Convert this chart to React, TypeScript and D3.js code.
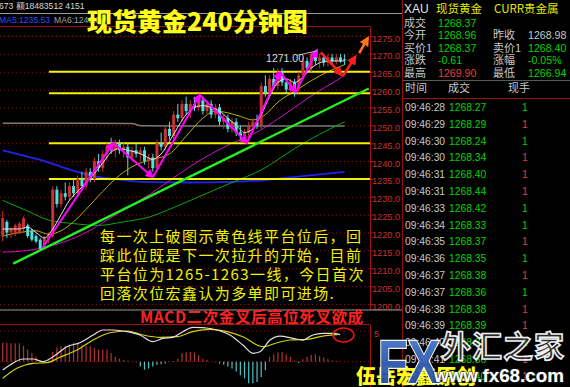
import React, { useEffect } from "react";
import * as d3 from "d3";

// ---- price bars (240-minute), [open, high, low, close] ----
const candles: [number, number, number, number][] = [
  [1219, 1226, 1217.5, 1224], [1223, 1223.5, 1218.5, 1220], [1220, 1221.5, 1218.5, 1221], [1219.5, 1222.5, 1219, 1222],
  [1220, 1223, 1219.5, 1222.5], [1221, 1224.5, 1220, 1224], [1222, 1222.5, 1218.5, 1219], [1220.5, 1221, 1217.5, 1218],
  [1219, 1219.5, 1217, 1217.5], [1218, 1218.5, 1215, 1215.5], [1216.5, 1219, 1216, 1218.5], [1218, 1220, 1217, 1219],
  [1219, 1233, 1218.5, 1232], [1232, 1233, 1227, 1228], [1228, 1232, 1227, 1231], [1231, 1234, 1229, 1230],
  [1230, 1234, 1229, 1233], [1233, 1235, 1230, 1231], [1231, 1236, 1230, 1235], [1235, 1237, 1232, 1233],
  [1233, 1238, 1232, 1237], [1237, 1238, 1234, 1235], [1235, 1241, 1234, 1240], [1240, 1242, 1237, 1238],
  [1238, 1243, 1237, 1242], [1242, 1245, 1240, 1244], [1244, 1246.5, 1242, 1243], [1243, 1246, 1241, 1245],
  [1245, 1246, 1242, 1243], [1243, 1245, 1241, 1244], [1244, 1245, 1236, 1241], [1241, 1244, 1240, 1243],
  [1243, 1245, 1241, 1242], [1242, 1244, 1240, 1243], [1243, 1244, 1239, 1240], [1240, 1242, 1238, 1241],
  [1241, 1242, 1237, 1238], [1238, 1246, 1237.5, 1245], [1245, 1248, 1243, 1244], [1244, 1250, 1243, 1249],
  [1249, 1251, 1246, 1247], [1247, 1254, 1246, 1253], [1253, 1256, 1251, 1252], [1252, 1257, 1251, 1256],
  [1256, 1258, 1253, 1254], [1254, 1257, 1252, 1256], [1256, 1258, 1254, 1255], [1255, 1259, 1254, 1257],
  [1257, 1258, 1253, 1254], [1254, 1257, 1253, 1256], [1256, 1257, 1252, 1253], [1253, 1256, 1252, 1255],
  [1255, 1256, 1250, 1251], [1251, 1253, 1249, 1252], [1252, 1253, 1248, 1249], [1249, 1252, 1248, 1251],
  [1251, 1252, 1247, 1248], [1248, 1250, 1246, 1247], [1247, 1249, 1245, 1248], [1248, 1251, 1246, 1250],
  [1250, 1252, 1248, 1251], [1251, 1253, 1249, 1250], [1250, 1262, 1249, 1261], [1261, 1264, 1258, 1259],
  [1259, 1264, 1258, 1263], [1263, 1266, 1260, 1261], [1261, 1266, 1260, 1265], [1265, 1266, 1261, 1262],
  [1262, 1263, 1259, 1260], [1260, 1263, 1259, 1262], [1262, 1263, 1258, 1260], [1260, 1265, 1259, 1264],
  [1264, 1269, 1263, 1268], [1268, 1269, 1265, 1266], [1266, 1270.5, 1265, 1270], [1270, 1271, 1267, 1268],
  [1268, 1270, 1266, 1269], [1269, 1270, 1266.5, 1267.5], [1267.5, 1270, 1266.5, 1269], [1269, 1270, 1267, 1268],
  [1268, 1270, 1267, 1269], [1269, 1270, 1267.5, 1268], [1268.5, 1269.9, 1266.9, 1268.4],
];

// ---- moving averages, [bar index, price] ----
const maWhite: [number, number][] = [
  [0, 1221], [2, 1221], [4, 1221], [6, 1221.5], [8, 1220], [10, 1218.5], [12, 1221], [14, 1225], [16, 1229],
  [18, 1231.5], [20, 1234], [22, 1236.5], [24, 1239.5], [26, 1242.5], [28, 1243.5], [30, 1243], [32, 1242.5],
  [34, 1241.5], [36, 1240.5], [38, 1242], [40, 1245.5], [42, 1249.5], [44, 1253], [46, 1255], [48, 1255.5],
  [50, 1255], [52, 1254], [54, 1252], [56, 1250], [58, 1248], [60, 1249], [62, 1253], [64, 1258], [66, 1262],
  [68, 1263], [70, 1262], [72, 1263.5], [74, 1266], [76, 1267.5], [78, 1268], [80, 1268], [82, 1268],
];
const maOlive: [number, number][] = [
  [0, 1219], [4, 1220], [8, 1220.5], [11, 1219.5], [14, 1220.5], [17, 1223], [20, 1226.5], [24, 1231.5],
  [28, 1236], [32, 1239], [36, 1240.5], [40, 1242], [44, 1247], [48, 1252], [51, 1254], [54, 1253.5],
  [57, 1252.5], [60, 1251.5], [63, 1253], [66, 1256.5], [70, 1259.5], [74, 1262.5], [78, 1265], [82, 1267],
];
const maMagenta: [number, number][] = [
  [0, 1214.5], [6, 1215], [10, 1215.8], [15, 1217.5], [20, 1220], [25, 1223.5], [30, 1227], [35, 1230.5],
  [40, 1234.5], [45, 1238.5], [50, 1242], [55, 1245], [60, 1247.5], [65, 1251], [70, 1255], [75, 1259],
  [80, 1262.5], [82, 1264],
];
const maGreen: [number, number][] = [
  [0, 1229], [6, 1226], [11, 1223.5], [17, 1222.5], [23, 1222], [29, 1223], [35, 1224.3], [41, 1227],
  [47, 1230], [55, 1234], [62, 1237.5], [70, 1243.5], [76, 1247.5], [82, 1251],
];
const maBlue: [number, number][] = [
  [0, 1243], [5, 1241.5], [10, 1240], [15, 1238], [21, 1236], [28, 1234.8], [35, 1234.1], [45, 1234],
  [55, 1234.2], [63, 1234.7], [72, 1235.8], [82, 1237],
];
const maGray: [number, number][] = [
  [0, 1250.6], [20, 1250.6], [31, 1250.5], [33, 1249.9], [50, 1249.8], [82, 1249.8],
];

// ---- drawn annotations ----
const levelLines = [1265, 1259, 1245, 1235];
const levelStart = 11.1;
const trendLine: [number, number][] = [[2.5, 1211.3], [87.8, 1260.3]];
const zigzag: [number, number][] = [
  [9.6, 1215.8], [26.5, 1245.1], [36.0, 1235.5], [47.3, 1258.5], [58.6, 1245.1],
  [66.5, 1264.9], [70.3, 1259.3], [75.4, 1271.1],
];
const redArrows: [number, number][][] = [
  [[76.3, 1270.4], [81.3, 1264.1]],
  [[81.6, 1263.8], [84.6, 1269.3]],
];
const orangeArrow: [number, number][] = [[85.5, 1270.2], [87.6, 1274.5]];
const highLabel = { i: 75.4, price: 1271.0, text: "1271.00" };

const priceTicks = [1275, 1270, 1265, 1260, 1255, 1250, 1245, 1240, 1235, 1230, 1225, 1220, 1215, 1210, 1205, 1200];

// ---- MACD ----
const histogram = [
  3.1, 3.1, 3.0, 3.0, 3.0, 2.6, 2.0, 1.4, 0.8, 0.25, 0.08, 0.2, 1.6, 2.3, 2.5, 2.6, 2.8, 3.1, 3.0, 2.8,
  2.5, 2.5, 2.2, 2.0, 2.0, 2.0, 1.4, 0.8, 0.5, 0.3, 0.15, 0.05, -0.1, -0.8, -1.3, -1.1, -0.8, -0.5, -0.4, -0.3,
  -0.05, 0.1, 0.5, 1.4, 1.5, 1.6, 1.5, 1.1, 0.5, 0.3, 0.05, -0.1, -0.3, -0.5, -0.8, -1.1, -1.6, -2.2, -2.7, -3.5,
  -3.5, -3.3, -2.5, -1.4, 0.8, 1.2, 1.5, 1.6, 1.2, 0.8, 0.2, -0.2, 0.4, 0.8, 1.1, 1.2, 0.9, 0.7, 0.4, 0.2,
  0.1, 0.05, 0.05,
];
const dif: [number, number][] = [
  [0, -1.35], [1.75, -0.54], [4.9, 0.44], [7.3, 0.44], [9.7, 0], [12.1, 0.81], [15.4, 2.44], [18.5, 3.09],
  [21.7, 4.35], [24, 5.16], [26.5, 5.16], [29.8, 4.89], [32.9, 4.35], [36, 3.26], [38.4, 3.8], [40.8, 3.97],
  [43.2, 4.89], [45.6, 5.6], [48, 5.54], [51.4, 5.16], [54.5, 4.35], [57.6, 2.72], [60, 1.37], [61.7, 1.63],
  [64.1, 3.53], [66.5, 4.18], [69.6, 3.8], [72, 3.53], [74.4, 4.35], [76.8, 4.62], [79.2, 4.62], [80.9, 4.4],
];
const dea: [number, number][] = [
  [0, -2.71], [3.4, -1.08], [7.3, -0.26], [10.6, -0.16], [13.7, 0.72], [17.8, 1.91], [21.7, 3.53], [25.7, 4.72],
  [29.8, 5.0], [33.6, 4.35], [37.7, 3.97], [41.8, 4.07], [45.6, 4.89], [49.7, 5.27], [53.8, 4.89], [57.6, 4.07],
  [62.4, 2.44], [65.8, 3.09], [68.9, 3.53], [73, 3.64], [76.8, 4.18], [80.2, 4.4],
];

// ---- quote panel ----
const GREEN = "#00d400";
const RED = "#e83c3c";
const GREY = "#c8c8c8";
const quoteLeft = [
  { label: "成交", value: "1268.37", color: GREEN },
  { label: "今开", value: "1268.96", color: GREEN },
  { label: "买价1", value: "1268.37", color: GREEN },
  { label: "涨跌", value: "-0.61", color: GREEN },
  { label: "最高", value: "1269.90", color: RED },
];
const quoteRight = [
  null,
  { label: "昨收", value: "1268.98", color: GREY },
  { label: "卖价1", value: "1268.40", color: GREEN },
  { label: "涨幅", value: "-0.05%", color: GREEN },
  { label: "最低", value: "1266.94", color: GREEN },
];
const ticksTime = [
  "09:46:28", "09:46:29", "09:46:30", "09:46:30", "09:46:31", "09:46:31", "09:46:33", "09:46:34", "09:46:35",
  "09:46:36", "09:46:37", "09:46:37", "09:46:38", "09:46:39", "09:46:40", "09:46:41", "09:46:42",
];
const ticksPrice = [
  "1268.27", "1268.29", "1268.24", "1268.34", "1268.40", "1268.44", "1268.42", "1268.33", "1268.37",
  "1268.35", "1268.38", "1268.36", "1268.38", "1268.39", "1268.37", "1268.36", "1268.40",
];
const ticksUp = [false, true, false, true, true, true, false, false, true, false, true, false, true, true, false, true, true];

const noteLines = [
  "每一次上破图示黄色线平台位后，回",
  "踩此位既是下一次拉升的开始，目前",
  "平台位为1265-1263一线，今日首次",
  "回落次位宏鑫认为多单即可进场.",
];

const CJK = "'Noto Sans CJK SC', sans-serif";
const SANS = "'Liberation Sans', Arial, sans-serif";

export default function App() {
  useEffect(() => {
    document.body.style.margin = "0";
    document.body.style.background = "#000";
  }, []);

  const x = d3.scaleLinear().domain([0, 82]).range([2.7, 344.6]);
  const y = d3.scaleLinear().domain([1200, 1275]).range([304, 36]);
  const ym = d3.scaleLinear().domain([0, 5]).range([361.7, 331]);

  const maLine = d3
    .line<[number, number]>()
    .x((d) => x(d[0]))
    .y((d) => y(d[1]))
    .curve(d3.curveMonotoneX);
  const macdLine = d3
    .line<[number, number]>()
    .x((d) => x(d[0]))
    .y((d) => ym(d[1]))
    .curve(d3.curveMonotoneX);
  const seg = d3
    .line<[number, number]>()
    .x((d) => x(d[0]))
    .y((d) => y(d[1]));

  const plotRight = 370;

  return (
    <svg
      width={570}
      height={387}
      style={{ position: "absolute", left: 0, top: 0, background: "#000", display: "block" }}
      fontFamily={SANS}
    >
      <defs>
        <marker id="ahMag" viewBox="0 0 10 10" refX="8" refY="5" markerWidth="4.5" markerHeight="4.5" orient="auto">
          <path d="M0,0 L10,5 L0,10 z" fill="#ff00ff" />
        </marker>
        <marker id="ahRed" viewBox="0 0 10 10" refX="8" refY="5" markerWidth="3.8" markerHeight="3.8" orient="auto">
          <path d="M0,0 L10,5 L0,10 z" fill="#ff1e1e" />
        </marker>
        <marker id="ahOrg" viewBox="0 0 10 10" refX="8" refY="5" markerWidth="3.8" markerHeight="3.8" orient="auto">
          <path d="M0,0 L10,5 L0,10 z" fill="#ff7418" />
        </marker>
        <clipPath id="plotClip">
          <rect x={0} y={27} width={plotRight} height={283} />
        </clipPath>
        <clipPath id="macdClip">
          <rect x={0} y={325} width={plotRight} height={62} />
        </clipPath>
        <linearGradient id="fxBlue" x1="0" y1="0" x2="0" y2="1">
          <stop offset="0" stopColor="#5a8ee0" />
          <stop offset="1" stopColor="#1c3f94" />
        </linearGradient>
      </defs>

      {/* header rows above the price pane */}
      <text x={-1} y={9} fontSize={8.6} fill="#d8d8d8">673 额18483512 4151</text>
      <line x1={0} x2={402} y1={13.5} y2={13.5} stroke="#9a9a9a" strokeWidth={1} />
      <text x={-1} y={23} fontSize={8.6} fill="#2f4dff">MA5:1235.53</text>
      <text x={54} y={23} fontSize={8.6} fill="#a0a0a0">MA6:1249.84</text>

      {/* price pane frame */}
      <line x1={0} x2={plotRight} y1={26.5} y2={26.5} stroke="#a01010" strokeWidth={1} />
      <line x1={plotRight + 0.5} x2={plotRight + 0.5} y1={26.5} y2={310} stroke="#a01010" strokeWidth={1} />

      {/* dotted price grid + axis labels */}
      {priceTicks.map((p) => (
        <g key={p}>
          <line x1={0} x2={plotRight} y1={y(p) + 0.5} y2={y(p) + 0.5} stroke="#8c0c0c" strokeWidth={1} strokeDasharray="1,3" />
          <line x1={plotRight} x2={plotRight + 3} y1={y(p) + 0.5} y2={y(p) + 0.5} stroke="#b01818" />
          <text x={372} y={y(p) + 5.5} fontSize={9.2} fill="#c83030">{p.toFixed(1)}</text>
        </g>
      ))}

      <g clipPath="url(#plotClip)">
        {/* moving averages */}
        <path d={maLine(maGray) ?? ""} fill="none" stroke="#7a7a7a" strokeWidth={1.6} />
        <path d={maLine(maBlue) ?? ""} fill="none" stroke="#2222ee" strokeWidth={1.8} />
        <path d={maLine(maGreen) ?? ""} fill="none" stroke="#0aa80a" strokeWidth={1} />
        <path d={maLine(maMagenta) ?? ""} fill="none" stroke="#d010d0" strokeWidth={1} />
        <path d={maLine(maOlive) ?? ""} fill="none" stroke="#bfae00" strokeWidth={1} />

        {/* yellow support/resistance levels */}
        {levelLines.map((p) => (
          <line key={p} x1={x(levelStart)} x2={plotRight} y1={y(p)} y2={y(p)} stroke="#f4f400" strokeWidth={2} />
        ))}

        {/* rising trend line */}
        <path d={seg(trendLine) ?? ""} stroke="#22ee22" strokeWidth={2.4} fill="none" />

        {/* candlesticks */}
        {candles.map(([o, h, l, c], i) => {
          const up = c >= o;
          const col = up ? "#c83232" : "#55dede";
          const top = y(Math.max(o, c));
          const bot = y(Math.min(o, c));
          return (
            <g key={i}>
              <line x1={x(i)} x2={x(i)} y1={y(h)} y2={y(l)} stroke={col} strokeWidth={1} />
              <rect x={x(i) - 1.5} y={top} width={3} height={Math.max(1, bot - top)} fill={col} />
            </g>
          );
        })}

        <path d={maLine(maWhite) ?? ""} fill="none" stroke="#e4e4e4" strokeWidth={1} />

        {/* swing arrows */}
        {zigzag.slice(1).map((p, k) => (
          <path
            key={k}
            d={seg([zigzag[k], p]) ?? ""}
            stroke="#ff00ff"
            strokeWidth={2}
            fill="none"
            markerEnd="url(#ahMag)"
          />
        ))}
        {redArrows.map((a, k) => (
          <path key={k} d={seg(a) ?? ""} stroke="#ff1e1e" strokeWidth={2.6} fill="none" markerEnd="url(#ahRed)" />
        ))}

        {/* high marker */}
        <line
          x1={x(highLabel.i) - 20}
          y1={y(highLabel.price) + 5}
          x2={x(highLabel.i)}
          y2={y(highLabel.price) + 0.5}
          stroke="#b4b4b4"
          strokeWidth={1}
        />
        <text x={x(highLabel.i) - 51} y={y(highLabel.price) + 12} fontSize={10.5} fill="#dcdcdc">
          {highLabel.text}
        </text>
      </g>

      {/* orange arrow tip reaches over the frame */}
      <path d={seg(orangeArrow) ?? ""} stroke="#ff7418" strokeWidth={2.6} fill="none" markerEnd="url(#ahOrg)" />

      {/* commentary */}
      {noteLines.map((t, k) => (
        <text
          key={k}
          x={100}
          y={235.5 + k * 19}
          dominantBaseline="central"
          fontFamily={CJK}
          fontSize={15}
          letterSpacing={1.4}
          fill="#f2f200"
        >
          {t}
        </text>
      ))}

      {/* title */}
      <text x={87} y={31} fontFamily={CJK} fontWeight={900} fontSize={25} fill="#ffff1a" letterSpacing={0}>
        现货黄金240分钟图
      </text>

      {/* MACD pane */}
      <line x1={0} x2={402} y1={310} y2={310} stroke="#9a9a9a" strokeWidth={1} />
      <text x={140} y={323} fontFamily={CJK} fontSize={15.5} fontWeight={700} fill="#ff2020" letterSpacing={0.6}>
        MACD二次金叉后高位死叉欲成
      </text>
      <line x1={0} x2={plotRight} y1={324.5} y2={324.5} stroke="#a01010" strokeWidth={1} />
      <line x1={plotRight + 0.5} x2={plotRight + 0.5} y1={324.5} y2={387} stroke="#a01010" strokeWidth={1} />
      {[5, 0].map((v) => (
        <line key={v} x1={0} x2={plotRight} y1={ym(v)} y2={ym(v)} stroke="#8c0c0c" strokeDasharray="1,3" />
      ))}
      <text x={374} y={337} fontSize={9.2} fill="#c83030">5</text>
      <g clipPath="url(#macdClip)">
        {histogram.map((v, i) => (
          <line
            key={i}
            x1={x(i)}
            x2={x(i)}
            y1={ym(0)}
            y2={ym(v)}
            stroke={v >= 0 ? "#b43434" : "#4cc4c4"}
            strokeWidth={1.2}
          />
        ))}
        <path d={macdLine(dea) ?? ""} fill="none" stroke="#d2d200" strokeWidth={1.2} />
        <path d={macdLine(dif) ?? ""} fill="none" stroke="#e0e0e0" strokeWidth={1.2} />
      </g>
      <ellipse cx={343.5} cy={335} rx={10.5} ry={7} fill="none" stroke="#ff1010" strokeWidth={1.4} />

      {/* quote panel */}
      <line x1={402.5} x2={402.5} y1={0} y2={387} stroke="#8c1010" strokeWidth={1} />
      <text x={404} y={12.5} fontSize={12} fill="#e6e6e6">XAU</text>
      <text x={436} y={12.5} fontSize={11.5} fontFamily={CJK} fill="#e6e600">现货黄金</text>
      <text x={494} y={12.5} fontSize={11.5} fontFamily={CJK} fill="#e6e600">CURR贵金属</text>
      {quoteLeft.map((r, k) => (
        <g key={k}>
          <text x={404} y={26.5 + k * 12.5} fontSize={11} fontFamily={CJK} fill={GREY}>{r.label}</text>
          <text x={438} y={26.5 + k * 12.5} fontSize={10.6} fill={r.color}>{r.value}</text>
        </g>
      ))}
      {quoteRight.map((r, k) =>
        r ? (
          <g key={k}>
            <text x={493} y={26.5 + k * 12.5} fontSize={11} fontFamily={CJK} fill={GREY}>{r.label}</text>
            <text x={528} y={26.5 + k * 12.5} fontSize={10.6} fill={r.color}>{r.value}</text>
          </g>
        ) : null
      )}
      <line x1={403} x2={570} y1={80.5} y2={80.5} stroke="#5a5a5a" />
      <text x={405} y={92} fontSize={11} fontFamily={CJK} fill={GREY}>时间</text>
      <text x={448} y={92} fontSize={11} fontFamily={CJK} fill={GREY}>成交</text>
      <text x={508} y={92} fontSize={11} fontFamily={CJK} fill={GREY}>现手</text>
      <line x1={403} x2={570} y1={98.5} y2={98.5} stroke="#a01010" />
      {ticksTime.map((t, k) => (
        <g key={k}>
          <text x={405} y={111 + k * 16.8} fontSize={10.3} fill={GREY}>{t}</text>
          <text x={449} y={111 + k * 16.8} fontSize={10.3} fill={GREEN}>{ticksPrice[k]}</text>
          <text x={522} y={111 + k * 16.8} fontSize={10.3} fill={ticksUp[k] ? RED : GREEN}>1</text>
        </g>
      ))}

      {/* signature */}
      <text x={356} y={384} fontFamily={CJK} fontWeight={900} fontSize={20} fill="#ffff1a" letterSpacing={0}>
        伍岳宏鑫原创
      </text>

      {/* site logo */}
      <g>
        <text
          x={378}
          y={383}
          fontSize={62}
          fontWeight={700}
          fontFamily={SANS}
          textLength={62}
          lengthAdjust="spacingAndGlyphs"
          fill="url(#fxBlue)"
          stroke="#ffffff"
          strokeWidth={2.5}
          paintOrder="stroke"
          opacity={0.95}
        >
          FX
        </text>
        <text
          x={441}
          y={357}
          fontSize={30}
          fontFamily={CJK}
          fontWeight={700}
          fill="#3c3c3c"
          fillOpacity={0.7}
          stroke="#f0f0f0"
          strokeWidth={1.6}
          letterSpacing={1}
        >
          外汇之家
        </text>
        <text
          x={434}
          y={382}
          fontSize={18}
          fontWeight={700}
          fontFamily={SANS}
          fill="#ffffff"
          stroke="#303030"
          strokeWidth={1.2}
          paintOrder="stroke"
          textLength={130}
          lengthAdjust="spacingAndGlyphs"
        >
          www.fx68.com
        </text>
      </g>
    </svg>
  );
}
